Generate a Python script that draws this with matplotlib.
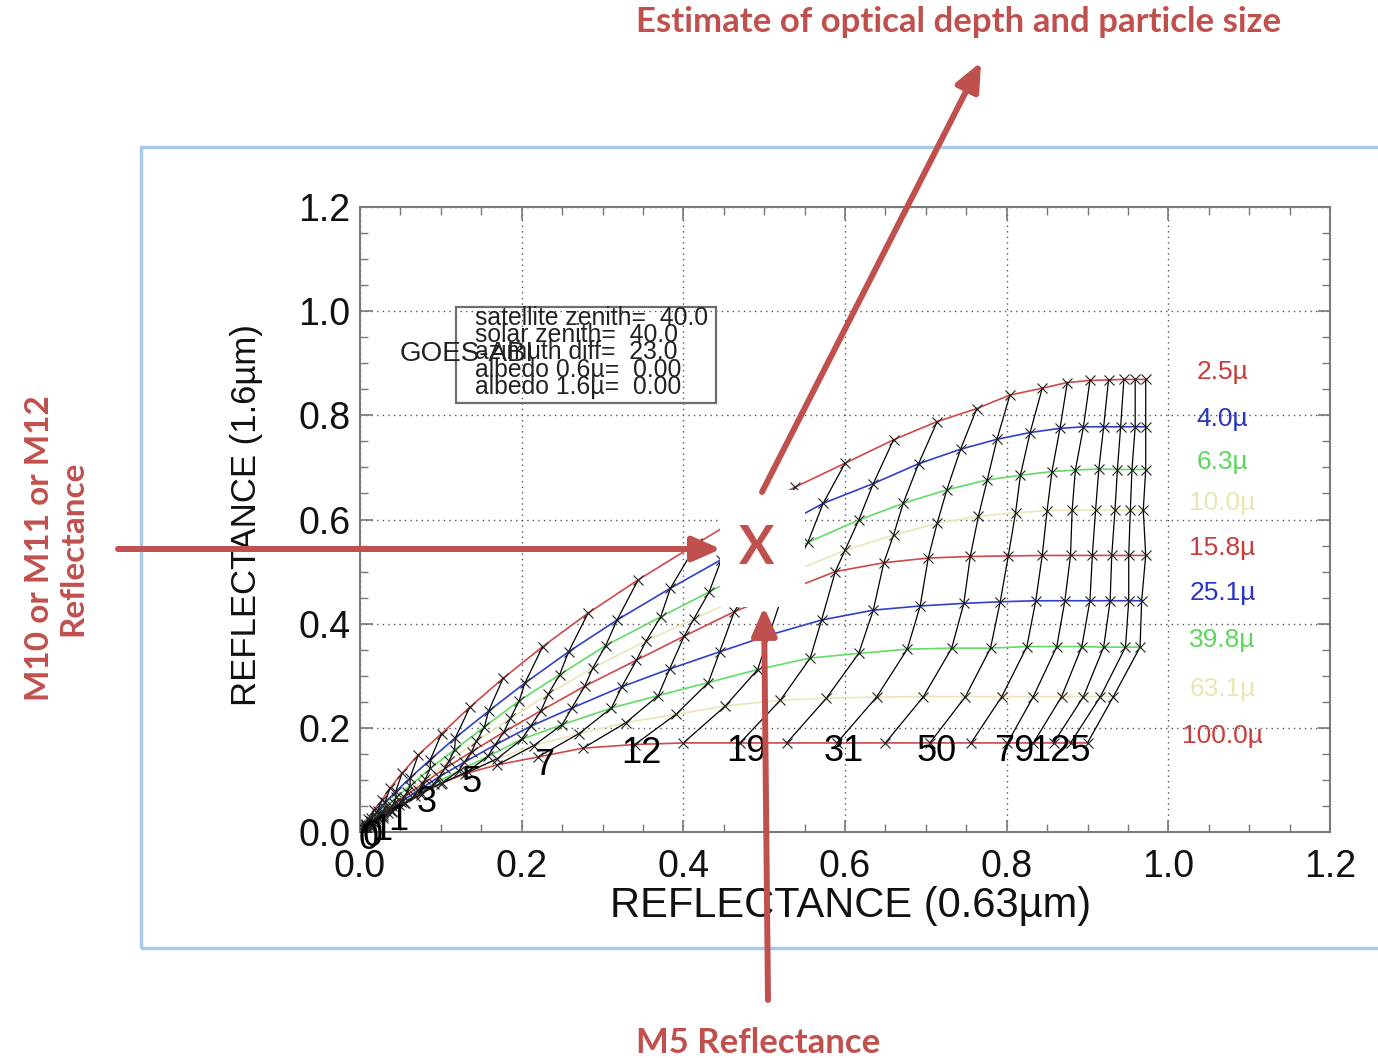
import matplotlib
matplotlib.use("Agg")
import matplotlib.pyplot as plt
from matplotlib.patches import Rectangle, FancyArrowPatch
from matplotlib.ticker import MultipleLocator, FormatStrFormatter

plt.rcParams['font.family'] = ['Liberation Sans', 'DejaVu Sans']

W, H = 1378, 1058

# ---------------- data ----------------
size_labels = ["2.5µ", "4.0µ", "6.3µ", "10.0µ", "15.8µ", "25.1µ", "39.8µ", "63.1µ", "100.0µ"]
label_colors = ["#c83c3c", "#2a34c4", "#5cd65c", "#ece4b2", "#c83c3c", "#2a34c4", "#5cd65c", "#ece4b2", "#c83c3c"]
line_colors = ["#d04848", "#3040c8", "#62dc62", "#ece5b8", "#d04848", "#3040c8", "#62dc62", "#ece5b8", "#d04848"]

x_r2p5 = [.010, .017, .027, .037, .052, .072, .101, .136, .177, .226, .282, .344, .417, .478, .538, .600, .660, .714, .763, .804, .844, .875, .903, .926, .945, .959, .972]
y_r2p5 = [.025, .042, .061, .084, .113, .148, .189, .240, .295, .356, .420, .484, .554, .612, .662, .708, .753, .788, .813, .839, .852, .863, .867, .868, .869, .869, .869]

x_r4p0 = [.008, .014, .022, .031, .044, .062, .087, .118, .159, .204, .258, .318, .384, .447, .510, .573, .635, .691, .743, .788, .829, .866, .895, .920, .941, .959, .972]
y_r4p0 = [.016, .027, .041, .057, .077, .104, .139, .181, .232, .286, .346, .407, .468, .523, .578, .631, .669, .707, .735, .754, .767, .775, .778, .778, .778, .778, .778]

x_r6p3 = [.008, .014, .023, .031, .045, .062, .087, .117, .154, .197, .247, .304, .372, .432, .492, .554, .617, .672, .726, .776, .817, .856, .885, .914, .937, .955, .972]
y_r6p3 = [.013, .022, .035, .047, .067, .089, .122, .158, .202, .252, .302, .358, .413, .461, .509, .556, .599, .631, .657, .676, .685, .692, .695, .697, .696, .696, .696]

x_r10 = [.008, .013, .021, .029, .042, .058, .081, .110, .144, .186, .233, .288, .354, .413, .475, .536, .600, .660, .714, .765, .811, .850, .881, .910, .934, .953, .969]
y_r10 = [.011, .017, .028, .039, .056, .076, .102, .136, .174, .218, .265, .315, .367, .409, .453, .500, .541, .570, .593, .606, .613, .617, .618, .618, .618, .618, .618]

x_r15p8 = [.007, .012, .020, .028, .040, .055, .078, .105, .138, .178, .224, .278, .342, .401, .463, .524, .588, .648, .703, .755, .802, .844, .879, .906, .930, .951, .972]
y_r15p8 = [.009, .015, .025, .035, .050, .068, .093, .122, .154, .192, .233, .280, .330, .376, .423, .461, .500, .517, .526, .529, .530, .531, .531, .531, .531, .531, .531]

x_r25p1 = [.007, .011, .018, .026, .037, .051, .072, .098, .129, .167, .211, .262, .324, .383, .445, .506, .571, .635, .693, .747, .792, .836, .872, .903, .928, .951, .967]
y_r25p1 = [.008, .013, .021, .030, .042, .058, .080, .106, .134, .167, .203, .238, .279, .313, .346, .378, .407, .426, .434, .439, .442, .444, .444, .444, .444, .444, .444]

x_r39p8 = [.006, .011, .017, .024, .035, .048, .068, .092, .122, .158, .200, .250, .311, .369, .431, .492, .557, .617, .677, .732, .780, .825, .862, .893, .920, .947, .965]
y_r39p8 = [.006, .012, .018, .025, .037, .051, .070, .093, .117, .145, .178, .206, .238, .262, .287, .312, .334, .343, .351, .353, .353, .356, .356, .356, .355, .355, .355]

x_r63p1 = [.005, .008, .013, .019, .028, .039, .056, .076, .102, .133, .170, .215, .271, .329, .391, .452, .520, .577, .639, .697, .749, .794, .833, .868, .895, .916, .932]
y_r63p1 = [.005, .008, .013, .019, .027, .038, .055, .072, .095, .116, .141, .166, .189, .210, .226, .242, .253, .257, .259, .260, .260, .260, .260, .260, .260, .260, .260]

x_r100 = [.003, .005, .008, .013, .020, .028, .040, .055, .075, .100, .130, .170, .220, .276, .340, .400, .470, .528, .590, .650, .705, .756, .801, .833, .858, .879, .900]
y_r100 = [.003, .005, .008, .013, .020, .030, .040, .055, .074, .093, .112, .129, .144, .161, .168, .171, .171, .171, .171, .171, .171, .171, .171, .171, .171, .171, .171]

tau_label_text = ["0", "0", "1", "1", "3", "5", "7", "12", "19", "31", "50", "79", "125"]
tau_label_index = [0, 2, 4, 6, 8, 10, 12, 14, 16, 18, 20, 22, 24]

x_ticks = [0.0, 0.2, 0.4, 0.6, 0.8, 1.0, 1.2]
y_ticks = [0.0, 0.2, 0.4, 0.6, 0.8, 1.0, 1.2]

info_lines = ["satellite zenith=  40.0", "solar zenith=  40.0", "azimuth diff=  23.0",
              "albedo 0.6µ=  0.00", "albedo 1.6µ=  0.00"]
info_y = [0.987, 0.954, 0.922, 0.887, 0.854]
instrument = "GOES-ABI"

title_text = "Estimate of optical depth and particle size"
bottom_text = "M5 Reflectance"
left_text = "M10 or M11 or M12\nReflectance"
accent = "#c0504d"

all_x = [x_r2p5, x_r4p0, x_r6p3, x_r10, x_r15p8, x_r25p1, x_r39p8, x_r63p1, x_r100]
all_y = [y_r2p5, y_r4p0, y_r6p3, y_r10, y_r15p8, y_r25p1, y_r39p8, y_r63p1, y_r100]

# ---------------- figure ----------------
def fx(px):
    return px / W


def fy(py):
    return 1 - py / H


fig = plt.figure(figsize=(W / 100, H / 100), dpi=100)
fig.patch.set_facecolor("white")

ax = fig.add_axes([fx(360), fy(832), (1330 - 360) / W, (832 - 207) / H])
ax.set_xlim(0, 1.2)
ax.set_ylim(0, 1.2)

# size curves
for xs, ys, c in zip(all_x, all_y, line_colors):
    ax.plot(xs, ys, color=c, lw=1.2, zorder=2)

# constant optical depth lines
n_tau = len(x_r2p5)
for i in range(n_tau):
    ax.plot([xs[i] for xs in all_x], [ys[i] for ys in all_y], color="black", lw=0.9, zorder=3)

# markers
for xs, ys in zip(all_x, all_y):
    ax.plot(xs, ys, ls="none", marker="x", ms=7.5, mew=0.8, color="#222222", zorder=4)

# size labels at right
for lab, c, ys in zip(size_labels, label_colors, all_y):
    ax.text(1.067, ys[-1] + 0.014, lab, color=c, fontsize=19, ha="center", va="center")

# optical depth labels
for txt, i in zip(tau_label_text, tau_label_index):
    ax.text(x_r100[i] + 0.008, y_r100[i] - 0.017, txt, fontsize=26, ha="center", va="center",
            color="black", zorder=5)

# info box
ax.add_patch(Rectangle((0.119, 0.824), 0.322, 0.184, fill=False, edgecolor="#6e6e6e", lw=1.6, zorder=5))
for t, yy in zip(info_lines, info_y):
    ax.text(0.142, yy, t, fontsize=17.8, ha="left", va="center", color="#222222", zorder=6)
ax.text(0.0495, 0.918, instrument, fontsize=20, ha="left", va="center", color="#222222", zorder=6)

# axes styling
ax.xaxis.set_minor_locator(MultipleLocator(0.05))
ax.yaxis.set_minor_locator(MultipleLocator(0.05))
ax.set_xticks(x_ticks)
ax.set_yticks(y_ticks)
ax.xaxis.set_major_formatter(FormatStrFormatter("%.1f"))
ax.yaxis.set_major_formatter(FormatStrFormatter("%.1f"))
ax.tick_params(which="both", direction="in", top=True, right=True, color="#777777")
ax.tick_params(which="major", length=9, width=1.2, labelsize=27, labelcolor="#111111")
ax.tick_params(axis="x", which="major", pad=12)
ax.tick_params(axis="y", which="major", pad=7)
ax.tick_params(which="minor", length=5.5, width=1.0)
for sp in ax.spines.values():
    sp.set_color("#7a7a7a")
    sp.set_linewidth(1.5)
ax.grid(True, which="major", ls=(0, (1, 3)), color="#555555", lw=1.0)
ax.set_axisbelow(True)

ax.set_xlabel("REFLECTANCE (0.63µm)", fontsize=30, color="#111111")
ax.xaxis.set_label_coords(0.506, -0.086)
ax.set_ylabel("REFLECTANCE (1.6µm)", fontsize=25, color="#111111")
ax.yaxis.set_label_coords(-0.100, 0.507)

# ---------------- slide annotations ----------------
fig.add_artist(Rectangle((fx(141), fy(948)), fx(1420) - fx(141), (948 - 147) / H,
                         transform=fig.transFigure, fill=False, edgecolor="#a9c9ea", lw=2.5, zorder=1))

fig.add_artist(Rectangle((fx(720), fy(607)), (805 - 720) / W, (607 - 490) / H,
                         transform=fig.transFigure, facecolor="white", edgecolor="none", zorder=10))
fig.text(fx(757), fy(548), "X", fontsize=38, fontweight="bold", family=["Lato", "DejaVu Sans"],
         color=accent, ha="center", va="center", zorder=12)

arrow_style = "-|>,head_length=17,head_width=7.5"
for (ax0, ay0), (ax1, ay1) in [((762, 492), (981, 62)), ((118, 549), (721, 549)), ((768, 1000), (764, 607))]:
    fig.add_artist(FancyArrowPatch((fx(ax0), fy(ay0)), (fx(ax1), fy(ay1)), transform=fig.transFigure,
                                   arrowstyle=arrow_style, mutation_scale=1, lw=4.3, color=accent,
                                   shrinkA=0, shrinkB=0, zorder=11))

fig.text(fx(959), fy(22), title_text, fontsize=25, fontweight="bold", family=["Lato", "DejaVu Sans"],
         color=accent, ha="center", va="center")
fig.text(fx(758), fy(1043), bottom_text, fontsize=25, fontweight="bold", family=["Lato", "DejaVu Sans"],
         color=accent, ha="center", va="center")
fig.text(fx(56), fy(548), left_text, fontsize=24, fontweight="bold", family=["Lato", "DejaVu Sans"],
         color=accent, ha="center", va="center", rotation=90, multialignment="center", linespacing=1.2)

fig.savefig("out.png", dpi=100, facecolor="white")
